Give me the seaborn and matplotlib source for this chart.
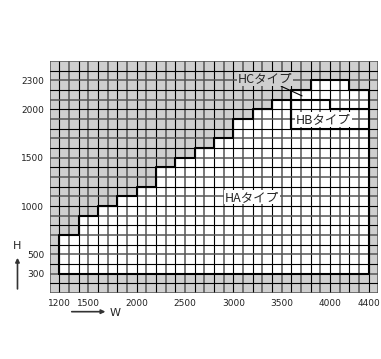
import numpy as np
import pandas as pd
import seaborn as sns
from matplotlib import pyplot as plt
from matplotlib.patches import FancyArrowPatch

# Tabela de tamanhos (W x H em mm)
x_ticks = [1200, 1500, 2000, 2500, 3000, 3500, 4000, 4400]
y_ticks = [300, 500, 1000, 1500, 2000, 2300]

# HA: degraus (W de início, H máximo)
ha_w = [1200, 1400, 1600, 1800, 2000, 2200, 2400, 2600, 2800, 3000, 3200, 3400, 3600, 4400]
ha_h = [700, 900, 1000, 1100, 1200, 1400, 1500, 1600, 1700, 1900, 2000, 2100, 1800, 1800]
ha_min_h = 300

# HB: acima de HA
hb_w = [3600, 4000, 4400]
hb_h = [2100, 2000, 2000]
hb_min_h = 1800

# HC: acima de HB
hc_w = [3600, 3800, 4200, 4400]
hc_h = [2200, 2300, 2200, 2200]

x_min, x_max = 1100, 4500
y_min, y_max = 100, 2500

sns.set_theme(style="white")
plt.rcParams['font.family'] = ['Noto Sans CJK JP', 'DejaVu Sans']

fig = plt.figure(figsize=(3.81, 3.59), dpi=100)
ax = fig.add_axes([0.1304, 0.1838, 0.863, 0.646])
ax.set_facecolor("#cfcfcf")

# Áreas brancas
ax.fill_between(ha_w, ha_min_h, ha_h, step="post", color="white", lw=0, zorder=1)
ax.fill_between(hc_w, hb_min_h, hc_h, step="post", color="white", lw=0, zorder=1)

# Grade a cada 100 mm
for gx in range(x_min, x_max + 1, 100):
    ax.axvline(gx, color="black" if gx % 200 == 0 else "#555555",
               lw=0.8 if gx % 200 == 0 else 1.1, zorder=2)
for gy in range(y_min, y_max + 1, 100):
    ax.axhline(gy, color="black" if gy % 200 == 0 else "#555555",
               lw=0.8 if gy % 200 == 0 else 1.1, zorder=2)

# Contornos
ha_x = [ha_w[0]] + ha_w + [ha_w[-1], ha_w[0]]
ha_y = [ha_min_h] + ha_h + [ha_min_h, ha_min_h]
outline = pd.concat([
    pd.DataFrame({"w": ha_x, "h": ha_y, "tipo": "HA"}),
    pd.DataFrame({"w": [hb_w[0]] + hb_w + [hb_w[-1]],
                  "h": [hb_min_h] + hb_h + [hb_min_h], "tipo": "HB"}),
    pd.DataFrame({"w": [hc_w[0]] + hc_w + [hc_w[-1]],
                  "h": [hb_h[0]] + hc_h + [hb_h[-1]], "tipo": "HC"}),
])
for tipo, grupo in outline.groupby("tipo"):
    sns.lineplot(data=grupo, x="w", y="h", sort=False, estimator=None,
                 drawstyle="steps-post", color="black", lw=1.5,
                 legend=False, ax=ax, zorder=3)

# Rótulos dos tipos
ax.text(3194, 1092, "HAタイプ", fontsize=9, ha="center", va="center", zorder=4,
        bbox=dict(facecolor="white", edgecolor="none", pad=0.5))
ax.text(3933, 1896, "HBタイプ", fontsize=9, ha="center", va="center", zorder=4,
        bbox=dict(facecolor="white", edgecolor="none", pad=0.5))
ax.annotate("HCタイプ", xy=(3710, 2140), xytext=(3330, 2315), fontsize=9,
            ha="center", va="center", zorder=4,
            bbox=dict(facecolor="#cfcfcf", edgecolor="none", pad=0.5),
            arrowprops=dict(arrowstyle="-", lw=0.8, color="black",
                            shrinkA=0, shrinkB=0))

ax.set_xlim(x_min, x_max)
ax.set_ylim(y_min, y_max)
ax.set_xticks(x_ticks)
ax.set_yticks(y_ticks)
ax.set_xticklabels([str(v) for v in x_ticks], fontsize=6.5, family="DejaVu Sans")
ax.set_yticklabels([str(v) for v in y_ticks], fontsize=6.5, family="DejaVu Sans")
ax.tick_params(length=2, width=0.6, pad=2, colors="#222222")
ax.set_xlabel("")
ax.set_ylabel("")
for s in ax.spines.values():
    s.set_visible(False)

# Setas H e W
fig.patches.append(FancyArrowPatch(
    (0.0459, 0.1875), (0.0459, 0.2897), transform=fig.transFigure,
    arrowstyle="-|>", mutation_scale=6, lw=1.2, color="#333333"))
fig.text(0.0454, 0.3156, "H", fontsize=8, ha="center", va="center", family="DejaVu Sans")
fig.patches.append(FancyArrowPatch(
    (0.181, 0.1318), (0.284, 0.1318), transform=fig.transFigure,
    arrowstyle="-|>", mutation_scale=6, lw=1.2, color="#333333"))
fig.text(0.302, 0.1273, "W", fontsize=8, ha="center", va="center", family="DejaVu Sans")

fig.savefig("out.png", dpi=100)
